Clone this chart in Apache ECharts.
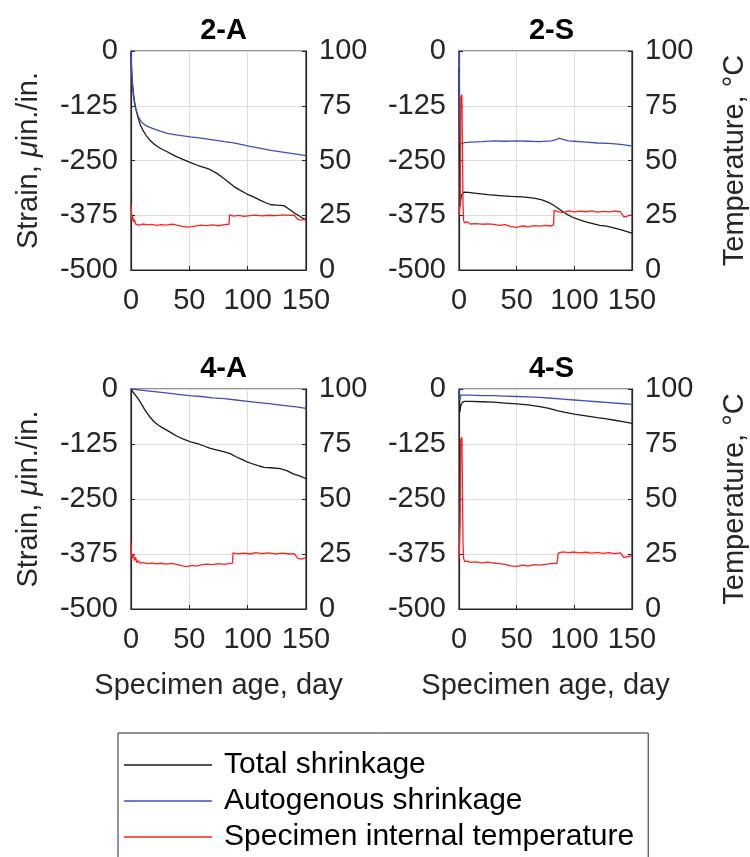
<!DOCTYPE html>
<html>
<head>
<meta charset="utf-8">
<script src="https://cdn.jsdelivr.net/npm/echarts@6/dist/echarts.min.js"></script>
<style>
  html, body { margin: 0; padding: 0; background: #fff; }
  #chart { width: 750px; height: 857px; }
</style>
</head>
<body>
<div id="chart"></div>
<script>
// panel names and axis ticks
const panelNames = ['2-A', '2-S', '4-A', '4-S'];
const seriesNames = ['Total shrinkage', 'Autogenous shrinkage', 'Specimen internal temperature'];
const dayTicks = [0, 50, 100, 150];
const strainTicks = [-500, -375, -250, -125, 0];
const tempTicks = [0, 25, 50, 75, 100];

// 2-A
const days2ATotal = [0, 0.5, 1, 2, 3, 4, 6, 8, 10, 13, 16, 20, 25, 31, 38, 45, 51, 58, 64, 68, 74, 79, 84, 88, 93, 99, 105, 111, 116, 120, 125, 131, 136, 140, 145, 150];
const total2A = [-5, -45, -67, -95, -115, -130, -152, -169, -180, -193, -203, -213, -222, -230, -240, -248, -255, -262, -267, -271, -280, -290, -300, -309, -317, -326, -333, -341, -347, -351, -352, -353, -362, -370, -378, -386];
const days2AAuto = [0, 0.5, 1, 2, 3, 4, 6, 8, 10, 14, 19, 25, 31, 40, 51, 60, 70, 80, 88, 95, 102, 110, 120, 130, 140, 150];
const auto2A = [0, -40, -70, -100, -120, -132, -148, -158, -165, -172, -177, -183, -188, -192, -196, -199, -203, -207, -210, -214, -218, -222, -227, -231, -235, -239];
const days2ATemp = [0, 0.5, 1, 1.5, 2, 3, 4, 5, 7, 10, 14, 18, 22, 26, 30, 35, 40, 44, 48, 52, 56, 60, 65, 70, 75, 80, 84, 84.5, 88, 92, 97, 102, 107, 112, 118, 124, 130, 136, 140, 143, 146, 150];
const temp2A = [30, 25, 23, 24.5, 22, 23, 21, 21.5, 20.5, 21, 20.6, 20.8, 20.4, 20.7, 20.5, 20.9, 20.4, 19.9, 19.6, 19.8, 20.1, 20.5, 20.3, 20.6, 20.2, 20.7, 20.9, 25.2, 24.6, 24.9, 24.5, 24.8, 25.1, 24.7, 25.0, 24.8, 25.2, 24.9, 25.0, 23.1, 22.8, 23.4];

// 2-S
const days2STotal = [0, 0.3, 0.8, 2, 4, 8, 15, 25, 35, 45, 55, 65, 72, 78, 83, 88, 93, 98, 104, 110, 116, 122, 128, 134, 140, 145, 150];
const total2S = [-40, -200, -355, -330, -322, -323, -325, -328, -330, -332, -333, -336, -340, -346, -354, -363, -372, -379, -385, -390, -394, -398, -400, -404, -408, -412, -416];
const days2SAuto = [0, 0.3, 0.6, 1, 2, 5, 10, 20, 30, 40, 50, 60, 70, 80, 85, 87, 90, 95, 100, 110, 120, 130, 140, 145, 150];
const auto2S = [0, -60, -150, -212, -210, -209, -208, -207, -205, -206, -205, -206, -207, -205, -202, -199, -202, -205, -206, -208, -210, -211, -213, -215, -217];
const days2STemp = [0, 1, 1.5, 2.5, 3.5, 4, 5, 7, 10, 15, 20, 25, 30, 35, 40, 45, 50, 55, 60, 65, 70, 75, 80, 82, 82.5, 86, 90, 95, 100, 105, 110, 115, 120, 125, 130, 135, 140, 143, 146, 150];
const temp2S = [25, 30, 79, 80, 30, 22.5, 21.5, 22, 21, 21.2, 20.9, 21.1, 20.8, 20.4, 20.7, 19.8, 19.5, 20.2, 19.7, 20.3, 20.0, 20.4, 20.1, 20.6, 27.2, 26.7, 26.2, 27.0, 26.5, 26.9, 26.6, 27.0, 26.4, 26.8, 26.5, 26.9, 26.6, 24.2, 24.6, 25.3];

// 4-A
const days4ATotal = [0, 2, 5, 8, 12, 16, 20, 25, 31, 36, 40, 45, 51, 57, 62, 68, 74, 80, 85, 90, 95, 99, 105, 110, 114, 120, 128, 134, 139, 145, 150];
const total4A = [0, -8, -18, -30, -48, -63, -75, -85, -94, -102, -108, -114, -120, -124, -129, -135, -139, -143, -147, -154, -160, -165, -171, -175, -178, -179, -181, -186, -193, -198, -204];
const days4AAuto = [0, 10, 20, 30, 40, 50, 60, 70, 80, 90, 100, 110, 120, 130, 140, 150];
const auto4A = [0, -3, -6, -9, -12, -15, -17, -20, -22, -25, -28, -31, -34, -37, -40, -44];
const days4ATemp = [0, 0.5, 1, 2, 3, 4, 5, 6, 8, 10, 14, 18, 22, 26, 30, 35, 40, 44, 48, 52, 56, 60, 65, 70, 75, 80, 85, 87, 87.5, 92, 97, 102, 107, 112, 118, 124, 130, 136, 140, 143, 146, 150];
const temp4A = [30, 24, 23, 25, 22, 23.5, 21, 22, 20.8, 21.2, 20.6, 20.9, 20.5, 20.8, 20.4, 20.7, 20.2, 19.6, 19.3, 19.8, 19.5, 20.1, 20.4, 20.2, 20.6, 20.3, 20.7, 20.9, 25.5, 25.1, 25.4, 25.0, 25.6, 25.2, 25.5, 25.1, 25.4, 25.0, 25.2, 23.0, 22.7, 23.3];

// 4-S
const days4STotal = [0, 0.3, 0.8, 1.5, 3, 5, 10, 20, 30, 40, 50, 60, 70, 78, 85, 92, 100, 110, 120, 128, 135, 142, 150];
const total4S = [-5, -20, -52, -38, -30, -28, -28, -29, -30, -32, -34, -36, -40, -44, -49, -53, -57, -61, -65, -68, -71, -74, -78];
const days4SAuto = [0, 0.3, 0.8, 1.5, 3, 5, 10, 20, 30, 40, 50, 60, 70, 80, 90, 100, 110, 120, 130, 140, 150];
const auto4S = [0, -8, -25, -14, -13, -14, -14, -15, -15, -16, -17, -18, -19, -21, -23, -25, -27, -29, -31, -33, -35];
const days4STemp = [0, 0.5, 1, 1.5, 2.5, 3.5, 4, 5, 7, 10, 15, 20, 25, 30, 35, 40, 45, 50, 55, 60, 65, 70, 75, 80, 85, 86, 90, 95, 100, 105, 110, 115, 120, 125, 130, 135, 140, 143, 146, 150];
const temp4S = [23, 30, 40, 77, 78, 30, 23, 21.5, 21.8, 21.2, 21.4, 21.0, 21.3, 20.9, 20.6, 20.3, 19.6, 19.4, 19.9, 19.5, 20.2, 19.9, 20.3, 20.6, 20.8, 25.4, 26.0, 25.6, 25.9, 25.5, 25.8, 25.4, 25.7, 25.3, 25.6, 25.2, 25.5, 23.4, 23.8, 24.2];

const panelData = [
  [[days2ATotal, total2A], [days2AAuto, auto2A], [days2ATemp, temp2A]],
  [[days2STotal, total2S], [days2SAuto, auto2S], [days2STemp, temp2S]],
  [[days4ATotal, total4A], [days4AAuto, auto4A], [days4ATemp, temp4A]],
  [[days4STotal, total4S], [days4SAuto, auto4S], [days4STemp, temp4S]]
];

const FONT = 'Liberation Sans, Arial, sans-serif';
const AXIS = '#262626';
const colors = ['#1a1a1a', '#3f4fc0', '#ff2020'];

// plot boxes in px
const boxes = [
  { left: 131, top: 51, width: 175, height: 219 },
  { left: 459, top: 51, width: 175, height: 219 },
  { left: 131, top: 389, width: 175, height: 220 },
  { left: 459, top: 389, width: 175, height: 220 }
];
const titleTops = [11, 11, 349, 349];

const label = { fontSize: 29, color: AXIS, fontFamily: FONT };

const grid = boxes.map(b => ({
  left: b.left, top: b.top, width: b.width, height: b.height,
  show: true, borderColor: AXIS, borderWidth: 1.2, backgroundColor: '#fff'
}));

const title = panelNames.map((t, i) => ({
  text: t,
  left: boxes[i].left + boxes[i].width / 2,
  top: titleTops[i],
  textAlign: 'center',
  textStyle: { fontSize: 29, fontWeight: 'bold', color: '#000', fontFamily: FONT }
}));

const xAxis = boxes.map((b, i) => ({
  gridIndex: i,
  type: 'value',
  min: dayTicks[0], max: dayTicks[dayTicks.length - 1], interval: 50,
  name: i >= 2 ? 'Specimen age, day' : '',
  nameLocation: 'middle',
  nameGap: 62,
  nameTextStyle: { fontSize: 29, color: AXIS, fontFamily: FONT },
  axisLine: { show: true, onZero: false, lineStyle: { color: AXIS, width: 1.2 } },
  axisTick: { show: true, inside: true, length: 4, lineStyle: { color: AXIS } },
  axisLabel: Object.assign({ margin: 16 }, label),
  splitLine: { show: true, lineStyle: { color: '#dedede', width: 1 } }
}));

const yAxis = [];
boxes.forEach((b, i) => {
  yAxis.push({
    gridIndex: i,
    type: 'value',
    position: 'left',
    min: strainTicks[0], max: strainTicks[strainTicks.length - 1], interval: 125,
    name: i % 2 === 0 ? '{a|Strain, }{b|μ}{a|in./in.}' : '',
    nameLocation: 'middle',
    nameGap: 88,
    nameTextStyle: {
      rich: {
        a: { fontSize: 29, color: AXIS, fontFamily: FONT },
        b: { fontSize: 29, color: AXIS, fontFamily: FONT, fontStyle: 'italic' }
      }
    },
    axisLine: { show: true, onZero: false, lineStyle: { color: AXIS, width: 1.2 } },
    axisTick: { show: true, inside: true, length: 4, lineStyle: { color: AXIS } },
    axisLabel: Object.assign({ margin: 13 }, label),
    splitLine: { show: true, lineStyle: { color: '#dedede', width: 1 } }
  });
  yAxis.push({
    gridIndex: i,
    type: 'value',
    position: 'right',
    min: tempTicks[0], max: tempTicks[tempTicks.length - 1], interval: 25,
    name: i % 2 === 1 ? 'Temperature, °C' : '',
    nameLocation: 'middle',
    nameGap: 88,
    nameTextStyle: { fontSize: 29, color: AXIS, fontFamily: FONT },
    axisLine: { show: true, onZero: false, lineStyle: { color: AXIS, width: 1.2 } },
    axisTick: { show: true, inside: true, length: 4, lineStyle: { color: AXIS } },
    axisLabel: Object.assign({ margin: 13 }, label),
    splitLine: { show: false }
  });
});

const series = [];
panelData.forEach((panel, i) => {
  panel.forEach((pair, k) => {
    const [days, vals] = pair;
    series.push({
      name: seriesNames[k],
      type: 'line',
      xAxisIndex: i,
      yAxisIndex: k === 2 ? 2 * i + 1 : 2 * i,
      data: days.map((d, j) => [d, vals[j]]),
      symbol: 'none',
      showSymbol: false,
      lineStyle: { color: colors[k], width: 1.3 },
      itemStyle: { color: colors[k] },
      z: 2 + k
    });
  });
});

const chart = echarts.init(document.getElementById('chart'), null, { renderer: 'canvas' });
chart.setOption({
  animation: false,
  backgroundColor: '#fff',
  title: title,
  grid: grid,
  xAxis: xAxis,
  yAxis: yAxis,
  legend: {
    data: seriesNames,
    orient: 'vertical',
    left: 118,
    top: 733,
    height: 200,
    padding: [14, 14, 8, 6],
    itemGap: 0,
    itemWidth: 88,
    itemHeight: 1.5,
    icon: 'rect',
    borderColor: AXIS,
    borderWidth: 1,
    backgroundColor: '#fff',
    textStyle: { fontSize: 30, color: '#000', fontFamily: FONT, lineHeight: 36, padding: [0, 0, 0, 7] }
  },
  series: series
});
</script>
</body>
</html>
